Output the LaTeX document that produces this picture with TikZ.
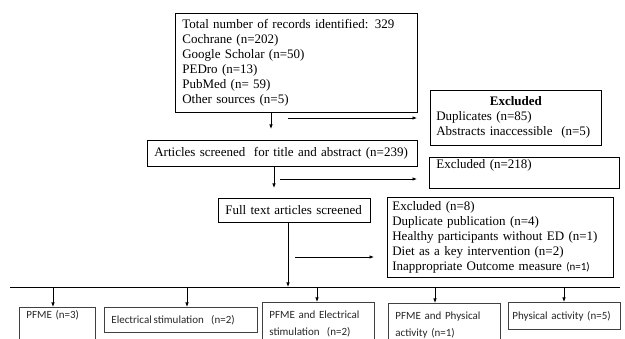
\documentclass[tikz,border=0pt]{standalone}
\usepackage{fontspec}
\setmainfont{Liberation Serif}
\newfontfamily\calib{Carlito}
\usetikzlibrary{arrows.meta}

\begin{document}
\begin{tikzpicture}[x=1pt, y=-1pt,
		box/.style={draw, line width=0.7pt, anchor=north west, align=left, inner xsep=7pt, inner ysep=0pt, font=\fontsize{13}{15}\selectfont},
		grp/.style={draw=black!75, line width=0.8pt, anchor=north west, align=left, inner xsep=7pt, inner ysep=0pt, text=black!85, font=\calib\fontsize{11}{17}\selectfont},
		arr/.style={-{Latex[length=4.5pt,width=3.5pt]}, line width=0.7pt}]
						\clip (0,0) rectangle (625,339);
					
						\node[box, text width=228pt, minimum height=99pt] (rec) at (175,13) {Total number of records identified: 329\\Cochrane (n=202)\\Google Scholar (n=50)\\PEDro (n=13)\\PubMed (n= 59)\\Other sources (n=5)};
						\node[box, inner xsep=6pt, text width=159pt, minimum height=55pt] (dup) at (430,90) {\makebox[\linewidth][c]{\textbf{Excluded}}\\Duplicates (n=85)\\Abstracts inaccessible\ \ (n=5)};
						\node[box, text width=256pt, minimum height=26pt] (screen) at (147,140) {Articles screened\ \ for title and abstract (n=239)};
						\node[box, text width=176pt, inner ysep=2pt, text height=9pt, text depth=18pt] (ex218) at (429,157) {Excluded (n=218)};
						\node[box, text width=138pt, minimum height=24pt] (full) at (218,198) {Full text articles screened};
						\node[box, inner xsep=5pt, text width=216pt, minimum height=80pt] (ex8) at (387,197) {Excluded (n=8)\\Duplicate publication (n=4)\\Healthy participants without ED (n=1)\\Diet as a key intervention (n=2)\\Inappropriate Outcome measure {\calib\fontsize{11}{15}\selectfont(n=1)}};
						
						\node[grp, text width=62pt, inner ysep=3pt, text height=8pt, text depth=19pt] (b1) at (19,307) {PFME (n=3)};
						\node[grp, text width=139pt, minimum height=25pt] (b2) at (104,307) {Electrical\,stimulation\ \ (n=2)};
						\node[grp, text width=98pt, minimum height=44pt] (b3) at (262,302) {PFME and Electrical\\stimulation\ \ (n=2)};
						\node[grp, text width=98pt, minimum height=44pt] (b4) at (388,303) {PFME and Physical\\activity (n=1)};
						\node[grp, text width=104pt, inner xsep=4pt, minimum height=27pt] (b5) at (508,302) {Physical activity (n=5)};
						
						\coordinate (h1) at (288,118);
						\coordinate (h2) at (280,179);
						\coordinate (h3) at (295,257);
						\coordinate (busL) at (10,287);
						\coordinate (busR) at (620,287);
						
						\draw[arr, shorten >=11pt] ([xshift=96pt]rec.south west) -- ([xshift=124pt]screen.north west);
						\draw[arr, shorten >=13pt] (h1) -- (h1 -| dup.west);
						\draw[arr, shorten >=10pt] ([xshift=127pt]screen.south west) -- ([xshift=56pt]full.north west);
						\draw[arr, shorten >=12pt] (h2) -- (h2 -| ex218.west);
						\draw[arr, shorten >=13pt] (h3) -- (h3 -| ex8.west);
						\draw[arr] ([xshift=70pt]full.south west) -- ([xshift=70pt]full.south west |- busL);
						\draw[line width=0.7pt] (busL) -- (busR);
						
						\foreach \n/\dx in {b1/34, b2/83, b3/55, b4/47, b5/56} \draw[arr] ([xshift=\dx pt]\n.north west |- busL) -- ([xshift=\dx pt]\n.north west);
					\end{tikzpicture}
\end{document}
